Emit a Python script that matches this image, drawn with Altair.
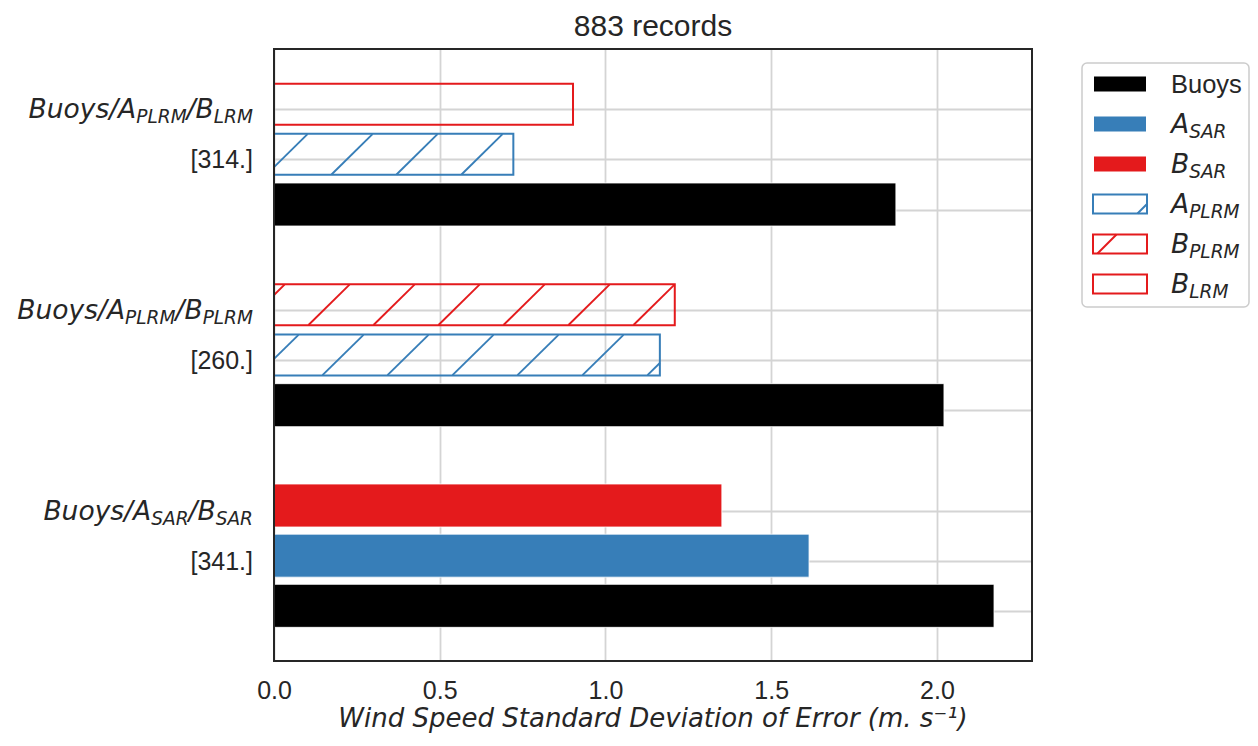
import altair as alt
import pandas as pd
import math

# ---------------- data ----------------
# groups listed bottom -> top
group_a_kind = ["SAR", "PLRM", "PLRM"]
group_b_kind = ["SAR", "PLRM", "LRM"]
group_counts = [341, 260, 314]
buoys_sd = [2.172, 2.021, 1.876]
a_sd = [1.614, 1.164, 0.722]
b_sd = [1.351, 1.209, 0.902]
x_tick_values = [0.0, 0.5, 1.0, 1.5, 2.0]
legend_main = ["Buoys", "A", "B", "A", "B", "B"]
legend_sub = ["", "SAR", "SAR", "PLRM", "PLRM", "LRM"]
chart_title = "883 records"
x_title = "Wind Speed Standard Deviation of Error (m. s\u207b\u00b9)"

# ---------------- styles / layout ----------------
BLACK, BLUE, RED = "#000000", "#377eb8", "#e41a1c"
TEXT = "#262626"
GRID = "#d4d4d4"
series_style = {
    "Buoys": ("fill", BLACK), "A_SAR": ("fill", BLUE), "B_SAR": ("fill", RED),
    "A_PLRM": ("hatch", BLUE), "B_PLRM": ("hatch", RED), "B_LRM": ("outline", RED),
}
W, H = 758, 612
XMAX = 2.2866
YMIN, YMAX = -1, 11
SX = W / XMAX
SY = H / (YMAX - YMIN)
BAR_PX = 43
HATCH_STEP = 65
MATH_FONT = "DejaVu Sans"
PLAIN_FONT = "Liberation Sans"
LBL_F = 26.5
SUB_SCALE = 0.7

# DejaVu Sans advance widths (em)
DV = {'B': .686, 'u': .634, 'o': .612, 'y': .592, 's': .521, '/': .337, 'A': .684,
      'P': .603, 'L': .557, 'R': .695, 'M': .863, 'S': .635}


def tw(text, size):
    return sum(DV.get(c, 0.6) for c in text) * size


# ---------------- bars ----------------
rows = []
for i in range(3):
    base = 4 * i
    rows.append(dict(slot=base, value=buoys_sd[i], series="Buoys"))
    rows.append(dict(slot=base + 1, value=a_sd[i], series="A_" + group_a_kind[i]))
    rows.append(dict(slot=base + 2, value=b_sd[i], series="B_" + group_b_kind[i]))
bars = pd.DataFrame(rows)
bars["kind"] = bars["series"].map(lambda s: series_style[s][0])
bars["color"] = bars["series"].map(lambda s: series_style[s][1])

xscale = alt.Scale(domain=[0, XMAX], nice=False, zero=True)
yscale = alt.Scale(domain=[YMIN, YMAX], nice=False, zero=False)
xaxis = alt.Axis(values=x_tick_values, format=".1f", grid=True, ticks=False, tickSize=0,
                 domain=False, labelFont=PLAIN_FONT, labelFontSize=25, labelColor=TEXT,
                 labelPadding=17, labelFlush=False, labelOverlap=False, title=None,
                 gridColor=GRID, gridWidth=1.8)
grid_y = [s - 0.1 for s in sorted(bars["slot"].tolist())]
yaxis = alt.Axis(values=grid_y, grid=True, labels=False, ticks=False, tickSize=0, domain=False,
                 title=None, gridColor=GRID, gridWidth=1.8)

filled = alt.Chart(bars[bars["kind"] == "fill"]).mark_bar(
    orient="horizontal", size=BAR_PX, stroke="white", strokeWidth=0.8).encode(
    x=alt.X("value:Q", scale=xscale, axis=xaxis),
    y=alt.Y("slot:Q", scale=yscale, axis=yaxis),
    fill=alt.Fill("color:N", scale=None),
)
outlined = alt.Chart(bars[bars["kind"] != "fill"]).mark_bar(
    orient="horizontal", size=BAR_PX - 2, fillOpacity=0, strokeWidth=2).encode(
    x=alt.X("value:Q", scale=xscale, axis=xaxis),
    y=alt.Y("slot:Q", scale=yscale, axis=yaxis),
    stroke=alt.Stroke("color:N", scale=None),
)

# hatch segments ("/" at 45 degrees in screen space), derived from the bars
hrows = []
for _, r in bars[bars["kind"] == "hatch"].iterrows():
    X0, X1 = 0.0, r["value"] * SX
    Y0 = r["slot"] * SY - (BAR_PX - 2) / 2
    Y1 = r["slot"] * SY + (BAR_PX - 2) / 2
    kmin = math.floor((X0 - Y1 - 9) / HATCH_STEP) - 1
    kmax = math.ceil((X1 - Y0 - 9) / HATCH_STEP) + 1
    for k in range(kmin, kmax + 1):
        c = 9 + HATCH_STEP * k
        ya = max(Y0, X0 - c)
        yb = min(Y1, X1 - c)
        if yb - ya > 0.5:
            hrows.append(dict(x=(c + ya) / SX, y=ya / SY, x2=(c + yb) / SX, y2=yb / SY,
                              color=r["color"]))
hatch = pd.DataFrame(hrows)
hatch_layer = alt.Chart(hatch).mark_rule(strokeWidth=1.9).encode(
    x=alt.X("x:Q", scale=xscale, axis=xaxis), x2="x2:Q",
    y=alt.Y("y:Q", scale=yscale, axis=yaxis), y2="y2:Q",
    color=alt.Color("color:N", scale=None),
)

# plot frame (spines)
one = pd.DataFrame({"a": [0]})
frame = alt.Chart(one).mark_rect(fillOpacity=0, stroke=TEXT, strokeWidth=2).encode(
    x=alt.value(0), x2=alt.value(W), y=alt.value(0), y2=alt.value(H))

# ---------------- y labels (mathtext-like with subscripts) ----------------
RIGHT = -21
main_rows, sub_rows, count_rows = [], [], []
for i in range(3):
    base = 4 * i
    pieces = [("Buoys/A", False), (group_a_kind[i], True), ("/B", False), (group_b_kind[i], True)]
    xr = RIGHT
    for text, is_sub in reversed(pieces):
        size = LBL_F * SUB_SCALE if is_sub else LBL_F
        (sub_rows if is_sub else main_rows).append(dict(px=xr, y=base + 2 - 0.1, t=text))
        xr -= tw(text, size)
    count_rows.append(dict(px=RIGHT, y=base + 1 - 0.1, t="[%d.]" % group_counts[i]))


def ytext(df, font, size, italic, dy):
    return alt.Chart(pd.DataFrame(df)).mark_text(
        font=font, fontSize=size, fontStyle="italic" if italic else "normal", align="right",
        baseline="alphabetic", dy=dy, color=TEXT).encode(
        x=alt.X("px:Q", scale=None), y=alt.Y("y:Q", scale=yscale, axis=yaxis), text="t:N")


ylab_main = ytext(main_rows, MATH_FONT, LBL_F, True, 9)
ylab_sub = ytext(sub_rows, MATH_FONT, LBL_F * SUB_SCALE, True, 14)
ylab_cnt = ytext(count_rows, PLAIN_FONT, 25, False, 9)

# ---------------- titles ----------------
title_mark = alt.Chart(pd.DataFrame({"t": [chart_title]})).mark_text(
    font=PLAIN_FONT, fontSize=30, color=TEXT, align="center", baseline="alphabetic").encode(
    x=alt.value(W / 2), y=alt.value(-13), text="t:N")
xtitle_mark = alt.Chart(pd.DataFrame({"t": [x_title]})).mark_text(
    font=MATH_FONT, fontSize=26, fontStyle="italic", color=TEXT, align="center",
    baseline="alphabetic").encode(
    x=alt.value(W / 2), y=alt.value(H + 65.5), text="t:N")

# ---------------- legend ----------------
LX0, LX1, LY0, LY1 = 808, 975, 14, 258
CY0, CSTEP = 35, 40
box = alt.Chart(one).mark_rect(
    fill="white", stroke="#cccccc", strokeWidth=1.5, cornerRadius=5).encode(
    x=alt.value(LX0), x2=alt.value(LX1), y=alt.value(LY0), y2=alt.value(LY1))

sw_rows = []
for i, (m, s) in enumerate(zip(legend_main, legend_sub)):
    key = m if not s else m + "_" + s
    kind, col = series_style[key]
    cy = CY0 + CSTEP * i
    if kind == "fill":
        sw_rows.append(dict(x0=820, x1=872, y0=cy - 7.5, y1=cy + 7.5, color=col, kind=kind))
    else:
        sw_rows.append(dict(x0=819, x1=873, y0=cy - 9.5, y1=cy + 9.5, color=col, kind=kind))
sw = pd.DataFrame(sw_rows)
sw_fill = alt.Chart(sw[sw["kind"] == "fill"]).mark_rect().encode(
    x=alt.X("x0:Q", scale=None), x2="x1:Q", y=alt.Y("y0:Q", scale=None), y2="y1:Q",
    fill=alt.Fill("color:N", scale=None))
sw_line = alt.Chart(sw[sw["kind"] != "fill"]).mark_rect(fillOpacity=0, strokeWidth=2).encode(
    x=alt.X("x0:Q", scale=None), x2="x1:Q", y=alt.Y("y0:Q", scale=None), y2="y1:Q",
    stroke=alt.Stroke("color:N", scale=None))

lh_rows = []
for _, r in sw[sw["kind"] == "hatch"].iterrows():
    u0, u1, v0, v1 = r["x0"], r["x1"], r["y0"], r["y1"]
    for k in range(0, 40):
        c = 53 + HATCH_STEP * k
        va = max(v0, c - u1)
        vb = min(v1, c - u0)
        if vb - va > 0.5:
            lh_rows.append(dict(x=c - va, y=va, x2=c - vb, y2=vb, color=r["color"]))
lh = pd.DataFrame(lh_rows)
lh_layer = alt.Chart(lh).mark_rule(strokeWidth=1.9).encode(
    x=alt.X("x:Q", scale=None), x2="x2:Q", y=alt.Y("y:Q", scale=None), y2="y2:Q",
    color=alt.Color("color:N", scale=None))

LTX = 897
plain_rows, lmain_rows, lsub_rows = [], [], []
for i, (m, s) in enumerate(zip(legend_main, legend_sub)):
    cy = CY0 + CSTEP * i
    if not s:
        plain_rows.append(dict(px=LTX, py=cy, t=m))
    else:
        lmain_rows.append(dict(px=LTX, py=cy, t=m))
        lsub_rows.append(dict(px=LTX + tw(m, LBL_F), py=cy, t=s))


def ltext(df, font, size, italic, dy):
    return alt.Chart(pd.DataFrame(df)).mark_text(
        font=font, fontSize=size, fontStyle="italic" if italic else "normal", align="left",
        baseline="alphabetic", dy=dy, color=TEXT).encode(
        x=alt.X("px:Q", scale=None), y=alt.Y("py:Q", scale=None), text="t:N")


leg_plain = ltext(plain_rows, PLAIN_FONT, 25.5, False, 9)
leg_main = ltext(lmain_rows, MATH_FONT, LBL_F, True, 9)
leg_sub = ltext(lsub_rows, MATH_FONT, LBL_F * SUB_SCALE, True, 14)

chart = alt.layer(
    filled, outlined, hatch_layer, frame, ylab_main, ylab_sub, ylab_cnt,
    title_mark, xtitle_mark,
    box, sw_fill, sw_line, lh_layer, leg_plain, leg_main, leg_sub,
).properties(
    width=W, height=H,
    autosize=alt.AutoSizeParams(type="none"),
    padding={"left": 266, "top": 41, "right": 218, "bottom": 72},
).configure_view(strokeWidth=0).configure(background="white")

chart.save("out.html", embed_options={"renderer": "svg", "actions": False})
